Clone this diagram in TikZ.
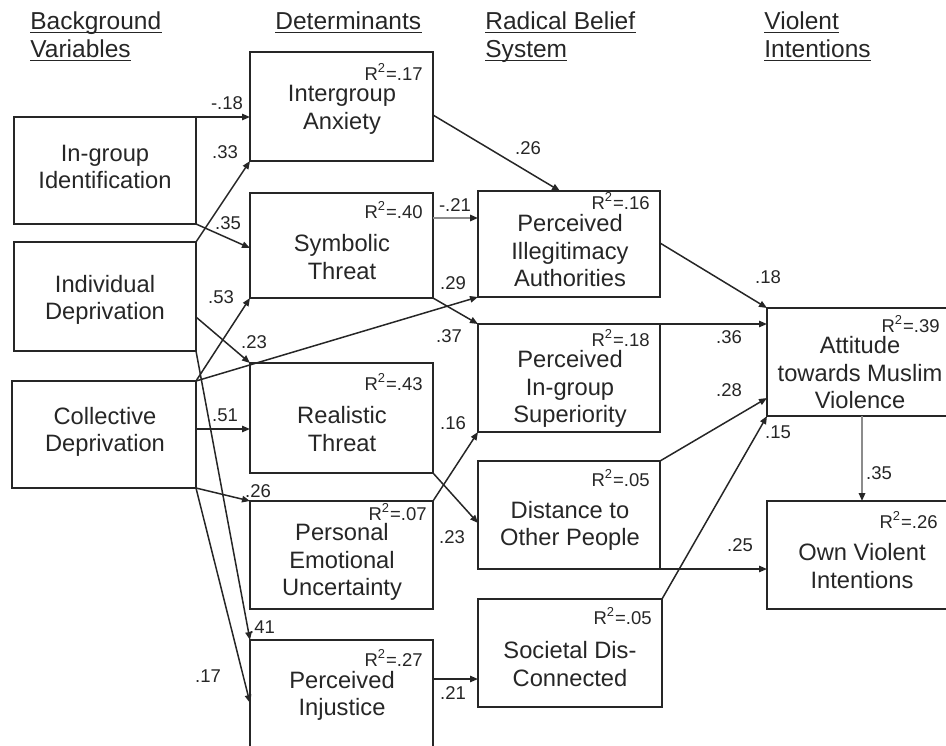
\documentclass[tikz,border=0pt]{standalone}
\usepackage{fontspec}
\setmainfont{Liberation Sans}
\usetikzlibrary{arrows.meta}
\definecolor{ink}{HTML}{262626}
\definecolor{lgrey}{HTML}{8C8C8C}
\begin{document}
\begin{tikzpicture}[x=0.5pt,y=-0.5pt,
  box/.style={draw=ink,line width=0.85pt,rectangle,inner sep=0pt,outer sep=0pt},
  txt/.style={text=ink,align=center,font=\fontsize{11.85}{13.75}\selectfont,inner sep=0pt},
  rsq/.style={text=ink,anchor=east,inner sep=0pt,font=\fontsize{9.25}{11}\selectfont},
  lbl/.style={text=ink,inner sep=0pt,font=\fontsize{9.25}{11}\selectfont},
  hdr/.style={text=ink,anchor=base west,inner sep=0pt,font=\fontsize{12.25}{14}\selectfont},
  arr/.style={draw=ink,line width=0.75pt,-{Triangle[length=4pt,width=3.2pt]}},
  garr/.style={draw=lgrey,line width=0.9pt,-{Triangle[length=4pt,width=3.2pt,color=ink]}}
]
\useasboundingbox (0,0) rectangle (946,745);
\clip (0,0) rectangle (946,745);

% headers
\node[hdr] (h1a) at (30,29) {Background};
\node[hdr] (h1b) at (30,57) {Variables};
\node[hdr] (h2a) at (275,29) {Determinants};
\node[hdr] (h3a) at (485,29) {Radical Belief};
\node[hdr] (h3b) at (485,57) {System};
\node[hdr] (h4a) at (764,29) {Violent};
\node[hdr] (h4b) at (764,57) {Intentions};
\foreach \h in {h1a,h1b,h2a,h3a,h3b,h4a,h4b}
  \draw[ink,line width=0.9pt] ([yshift=-1.75pt]\h.base west) -- ([yshift=-1.75pt]\h.base east);

% boxes
\node[box,minimum width=91pt,minimum height=53.5pt] (ingr) at (105,170.5) {};
\node[box,minimum width=91pt,minimum height=54.5pt] (indiv) at (105,296.5) {};
\node[box,minimum width=92pt,minimum height=53.5pt] (coll) at (104,434.5) {};
\node[box,minimum width=91.5pt,minimum height=54.5pt] (anx) at (341.5,106.5) {};
\node[box,minimum width=91.5pt,minimum height=52.5pt] (sym) at (341.5,245.5) {};
\node[box,minimum width=91.5pt,minimum height=55pt] (real) at (341.5,418) {};
\node[box,minimum width=91.5pt,minimum height=54pt] (pers) at (341.5,555) {};
\node[box,minimum width=91.5pt,minimum height=60pt] (inj) at (341.5,700) {};
\node[box,minimum width=91pt,minimum height=53pt] (illeg) at (569,244) {};
\node[box,minimum width=91pt,minimum height=54pt] (sup) at (569,378) {};
\node[box,minimum width=91pt,minimum height=54pt] (dist) at (569,515) {};
\node[box,minimum width=92pt,minimum height=54pt] (soc) at (570,653) {};
\node[box,minimum width=92.5pt,minimum height=54pt] (att) at (859.5,362) {};
\node[box,minimum width=92.5pt,minimum height=54pt] (own) at (859.5,555) {};

% box texts
\node[txt] (t-ingr) at (105,167) {In-group\\Identification};
\node[txt] (t-indiv) at (105,300) {Individual\\Deprivation};
\node[txt] (t-coll) at (105,432) {Collective\\Deprivation};
\node[txt] (t-anx) at (342,110) {Intergroup\\Anxiety};
\node[txt] (t-sym) at (342,257) {Symbolic\\Threat};
\node[txt] (t-real) at (342,429) {Realistic\\Threat};
\node[txt] (t-pers) at (342,562) {Personal\\Emotional\\Uncertainty};
\node[txt] (t-inj) at (342,696) {Perceived\\Injustice};
\node[txt] (t-illeg) at (570,251) {Perceived\\Illegitimacy\\Authorities};
\node[txt] (t-sup) at (570,389) {Perceived\\In-group\\Superiority};
\node[txt] (t-dist) at (570,526) {Distance to\\Other People};
\node[txt] (t-soc) at (570,664) {Societal Dis-\\Connected};
\node[txt] (t-att) at (860,373) {Attitude\\towards Muslim\\Violence};
\node[txt] (t-own) at (862,566) {Own Violent\\Intentions};

% R squared
\node[rsq] (r-anx) at (423,72) {R\textsuperscript{2}=.17};
\node[rsq] (r-sym) at (423,210) {R\textsuperscript{2}=.40};
\node[rsq] (r-real) at (423,382) {R\textsuperscript{2}=.43};
\node[rsq] (r-pers) at (427,512) {R\textsuperscript{2}=.07};
\node[rsq] (r-inj) at (423,658) {R\textsuperscript{2}=.27};
\node[rsq] (r-illeg) at (650,201) {R\textsuperscript{2}=.16};
\node[rsq] (r-sup) at (650,338) {R\textsuperscript{2}=.18};
\node[rsq] (r-dist) at (650,478) {R\textsuperscript{2}=.05};
\node[rsq] (r-soc) at (652,616) {R\textsuperscript{2}=.05};
\node[rsq] (r-att) at (940,324) {R\textsuperscript{2}=.39};
\node[rsq] (r-own) at (938,520) {R\textsuperscript{2}=.26};

% connectors
\draw[arr] (ingr.north east) -- (anx.west |- ingr.north east);
\draw[arr] (indiv.north east) -- (anx.south west);
\draw[arr] (ingr.south east) -- (sym.west |- 0,248);
\draw[arr] (coll.north east) -- (sym.south west);
\draw[arr] (indiv.east |- 0,317) -- (real.north west);
\draw[arr] (coll.north east) -- (illeg.south west);
\draw[arr] (coll.east |- 0,429) -- (real.west |- 0,429);
\draw[arr] (coll.south east) -- (pers.north west);
\draw[arr] (indiv.south east) -- (inj.north west);
\draw[arr] (coll.south east) -- (inj.west |- 0,703);
\draw[arr] (anx.east |- 0,115) -- (illeg.north -| 560,0);
\draw[garr] (sym.east |- 0,218) -- (illeg.west |- 0,218);
\draw[arr] (sym.south east) -- (sup.north west);
\draw[arr] (sup.north east) -- (att.west |- sup.north east);
\draw[arr] (illeg.east |- 0,243) -- (att.north west);
\draw[arr] (dist.north east) -- (att.west |- 0,398);
\draw[arr] (soc.north east) -- (att.south west);
\draw[garr] (att.south -| 862,0) -- (own.north -| 862,0);
\draw[arr] (dist.south east) -- (own.west |- dist.south east);
\draw[arr] (real.south east) -- (dist.west |- 0,523);
\draw[arr] (pers.north east) -- (sup.south west);
\draw[arr] (inj.east |- 0,679) -- (soc.west |- 0,679);

% path coefficients
\node[lbl] (l1) at (227,103) {-.18};
\node[lbl] (l2) at (225,152) {.33};
\node[lbl] (l3) at (228,223) {.35};
\node[lbl] (l4) at (221,297) {.53};
\node[lbl] (l5) at (254,342) {.23};
\node[lbl] (l6) at (453,283) {.29};
\node[lbl] (l7) at (455,205) {-.21};
\node[lbl] (l8) at (449,336) {.37};
\node[lbl] (l9) at (453,423) {.16};
\node[lbl] (l10) at (452,537) {.23};
\node[lbl] (l11) at (453,693) {.21};
\node[lbl] (l12) at (225,415) {.51};
\node[lbl] (l13) at (258,491) {.26};
\node[lbl] (l14) at (262,627) {.41};
\node[lbl] (l15) at (208,676) {.17};
\node[lbl] (l16) at (528,148) {.26};
\node[lbl] (l17) at (768,277) {.18};
\node[lbl] (l18) at (729,337) {.36};
\node[lbl] (l19) at (729,390) {.28};
\node[lbl] (l20) at (778,432) {.15};
\node[lbl] (l21) at (879,473) {.35};
\node[lbl] (l22) at (740,545) {.25};
\end{tikzpicture}
\end{document}
